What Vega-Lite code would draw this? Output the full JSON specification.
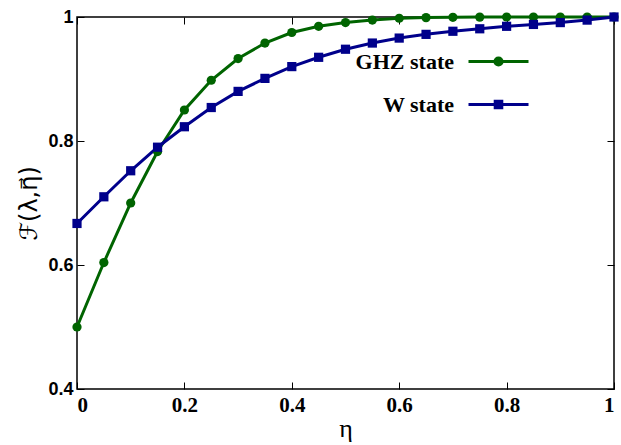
{
  "$schema": "https://vega.github.io/schema/vega-lite/v6.json",
  "autosize": "none",
  "width": 537,
  "height": 372,
  "padding": {"left": 77, "top": 17, "right": 7, "bottom": 56},
  "background": "white",
  "config": {
    "view": {"stroke": "black", "strokeWidth": 1.5},
    "axis": {"grid": false, "domain": false, "tickColor": "black", "tickSize": -7, "tickWidth": 1}
  },
  "datasets": {
    "fid": [
      {"eta": 0.0, "F": 0.5, "s": "GHZ state"},
      {"eta": 0.05, "F": 0.604, "s": "GHZ state"},
      {"eta": 0.1, "F": 0.7, "s": "GHZ state"},
      {"eta": 0.15, "F": 0.783, "s": "GHZ state"},
      {"eta": 0.2, "F": 0.85, "s": "GHZ state"},
      {"eta": 0.25, "F": 0.898, "s": "GHZ state"},
      {"eta": 0.3, "F": 0.933, "s": "GHZ state"},
      {"eta": 0.35, "F": 0.958, "s": "GHZ state"},
      {"eta": 0.4, "F": 0.975, "s": "GHZ state"},
      {"eta": 0.45, "F": 0.985, "s": "GHZ state"},
      {"eta": 0.5, "F": 0.991, "s": "GHZ state"},
      {"eta": 0.55, "F": 0.995, "s": "GHZ state"},
      {"eta": 0.6, "F": 0.998, "s": "GHZ state"},
      {"eta": 0.65, "F": 0.999, "s": "GHZ state"},
      {"eta": 0.7, "F": 0.9995, "s": "GHZ state"},
      {"eta": 0.75, "F": 0.9998, "s": "GHZ state"},
      {"eta": 0.8, "F": 1.0, "s": "GHZ state"},
      {"eta": 0.85, "F": 1.0, "s": "GHZ state"},
      {"eta": 0.9, "F": 1.0, "s": "GHZ state"},
      {"eta": 0.95, "F": 1.0, "s": "GHZ state"},
      {"eta": 1.0, "F": 1.0, "s": "GHZ state"},
      {"eta": 0.0, "F": 0.667, "s": "W state"},
      {"eta": 0.05, "F": 0.71, "s": "W state"},
      {"eta": 0.1, "F": 0.752, "s": "W state"},
      {"eta": 0.15, "F": 0.79, "s": "W state"},
      {"eta": 0.2, "F": 0.823, "s": "W state"},
      {"eta": 0.25, "F": 0.854, "s": "W state"},
      {"eta": 0.3, "F": 0.88, "s": "W state"},
      {"eta": 0.35, "F": 0.901, "s": "W state"},
      {"eta": 0.4, "F": 0.92, "s": "W state"},
      {"eta": 0.45, "F": 0.935, "s": "W state"},
      {"eta": 0.5, "F": 0.948, "s": "W state"},
      {"eta": 0.55, "F": 0.958, "s": "W state"},
      {"eta": 0.6, "F": 0.966, "s": "W state"},
      {"eta": 0.65, "F": 0.972, "s": "W state"},
      {"eta": 0.7, "F": 0.977, "s": "W state"},
      {"eta": 0.75, "F": 0.981, "s": "W state"},
      {"eta": 0.8, "F": 0.985, "s": "W state"},
      {"eta": 0.85, "F": 0.988, "s": "W state"},
      {"eta": 0.9, "F": 0.991, "s": "W state"},
      {"eta": 0.95, "F": 0.995, "s": "W state"},
      {"eta": 1.0, "F": 1.0, "s": "W state"}
    ]
  },
  "data": {"name": "fid"},
  "resolve": {"axis": {"x": "independent", "y": "independent"}},
  "layer": [
    {
      "mark": {"type": "line", "strokeWidth": 3, "clip": false},
      "encoding": {
        "x": {"field": "eta", "type": "quantitative", "scale": {"domain": [0, 1], "nice": false, "zero": false},
          "axis": {"orient": "bottom", "values": [0, 0.2, 0.4, 0.6, 0.8, 1], "format": "~g", "title": "η",
            "labelFont": "Liberation Serif", "labelFontWeight": "bold", "labelFontSize": 21, "labelColor": "black", "labelPadding": 12,
            "titleFont": "Liberation Serif", "titleFontWeight": "normal", "titleFontSize": 26, "titleColor": "black", "titlePadding": 0}},
        "y": {"field": "F", "type": "quantitative", "scale": {"domain": [0.4, 1], "nice": false, "zero": false},
          "axis": {"orient": "left", "values": [0.4, 0.6, 0.8, 1], "format": "~g", "title": "ℱ(λ,η⃗)",
            "labelFont": "Liberation Sans", "labelFontWeight": "bold", "labelFontSize": 18, "labelColor": "black", "labelPadding": 11,
            "titleFont": "DejaVu Sans", "titleFontWeight": "normal", "titleFontStyle": "normal", "titleFontSize": 24, "titleColor": "black", "titlePadding": 6}},
        "color": {"field": "s", "type": "nominal", "scale": {"domain": ["GHZ state", "W state"], "range": ["#006400", "#00008b"]}}
      }
    },
    {
      "transform": [{"filter": "datum.s === 'GHZ state'"}],
      "mark": {"type": "point", "filled": true, "opacity": 1, "size": 85, "shape": "circle", "clip": false},
      "encoding": {
        "x": {"field": "eta", "type": "quantitative", "axis": {"orient": "top", "values": [0, 0.2, 0.4, 0.6, 0.8, 1], "labels": false, "title": null}},
        "y": {"field": "F", "type": "quantitative", "axis": {"orient": "right", "values": [0.4, 0.6, 0.8, 1], "labels": false, "title": null}},
        "color": {"field": "s", "type": "nominal"}
      }
    },
    {
      "transform": [{"filter": "datum.s === 'W state'"}],
      "mark": {"type": "point", "filled": true, "opacity": 1, "size": 85, "shape": "square", "clip": false},
      "encoding": {
        "x": {"field": "eta", "type": "quantitative", "axis": null},
        "y": {"field": "F", "type": "quantitative", "axis": null},
        "color": {"field": "s", "type": "nominal"}
      }
    },
    {
      "transform": [{"filter": "datum.eta > 5"}],
      "mark": {"type": "point", "filled": true, "size": 3600},
      "encoding": {
        "x": {"field": "eta", "type": "quantitative", "axis": null},
        "y": {"field": "F", "type": "quantitative", "axis": null},
        "color": {"field": "s", "type": "nominal",
          "legend": {"orient": "none", "legendX": 390, "legendY": 13, "title": null, "symbolStrokeWidth": 3, "symbolSize": 3600,
            "labelFont": "Liberation Serif", "labelFontWeight": "bold", "labelFontSize": 22, "labelColor": "black",
            "labelAlign": "right", "labelOffset": -76, "rowPadding": -10}},
        "shape": {"field": "s", "type": "nominal",
          "scale": {"domain": ["GHZ state", "W state"], "range": ["M-1,0H1M-0.12,0A0.12,0.12,0,1,1,0.12,0A0.12,0.12,0,1,1,-0.12,0Z", "M-1,0H1M-0.11,-0.11H0.11V0.11H-0.11Z"]},
          "legend": {"orient": "none", "legendX": 390, "legendY": 13, "title": null, "symbolStrokeWidth": 3, "symbolSize": 3600,
            "labelFont": "Liberation Serif", "labelFontWeight": "bold", "labelFontSize": 22, "labelColor": "black",
            "labelAlign": "right", "labelOffset": -76, "rowPadding": -10}}
      }
    }
  ]
}
